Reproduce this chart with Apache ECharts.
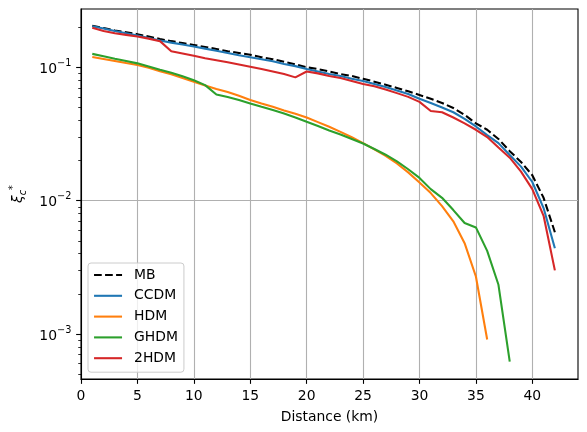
<!DOCTYPE html>
<html><head><meta charset="utf-8">
<script src="https://cdn.jsdelivr.net/npm/echarts@6/dist/echarts.min.js"></script>
<style>html,body{margin:0;padding:0;background:#fff}#c{width:587px;height:432px}</style>
</head><body><div id="c"></div>
<script>
const distance = [1,2,3,4,5,6,7,8,9,10,11,12,13,14,15,16,17,18,19,20,21,22,23,24,25,26,27,28,29,30,31,32,33,34,35,36,37,38,39,40,41,42];
const mbValues = [0.205,0.197,0.189,0.183,0.177,0.170,0.163,0.157,0.152,0.147,0.142,0.137,0.132,0.128,0.124,0.119,0.115,0.110,0.105,0.100,0.097,0.093,0.089,0.086,0.082,0.078,0.074,0.070,0.066,0.062,0.058,0.054,0.0495,0.044,0.038,0.034,0.029,0.0235,0.0195,0.0155,0.0105,0.0058];
const ccdmValues = [0.203,0.195,0.187,0.180,0.173,0.166,0.159,0.153,0.148,0.143,0.138,0.133,0.128,0.123,0.119,0.115,0.111,0.106,0.102,0.097,0.093,0.089,0.086,0.082,0.079,0.075,0.071,0.067,0.063,0.058,0.054,0.050,0.046,0.041,0.036,0.031,0.027,0.022,0.018,0.0138,0.0088,0.0044];
const hdmValues = [0.1195,0.1155,0.1115,0.1075,0.104,0.099,0.0935,0.0885,0.083,0.078,0.073,0.0688,0.0652,0.0612,0.0569,0.0535,0.0505,0.0475,0.0448,0.042,0.0388,0.0358,0.0328,0.0299,0.027,0.0242,0.0217,0.019,0.0163,0.0137,0.0114,0.0091,0.0070,0.0048,0.0027,0.00091];
const ghdmValues = [0.126,0.121,0.116,0.1115,0.107,0.1015,0.096,0.091,0.0855,0.080,0.0735,0.0625,0.0598,0.0568,0.0535,0.0505,0.0478,0.045,0.042,0.039,0.0363,0.0336,0.0313,0.029,0.0268,0.0244,0.0221,0.0197,0.0172,0.0148,0.0122,0.0105,0.0085,0.0068,0.0063,0.0042,0.00234,0.00062];
const hdm2Values = [0.198,0.187,0.180,0.175,0.170,0.164,0.157,0.132,0.127,0.122,0.117,0.113,0.109,0.105,0.101,0.097,0.093,0.089,0.084,0.093,0.090,0.086,0.083,0.079,0.075,0.072,0.068,0.064,0.060,0.055,0.047,0.046,0.042,0.038,0.034,0.030,0.025,0.021,0.0165,0.0122,0.0077,0.0030];
const seriesNames = ['MB','CCDM','HDM','GHDM','2HDM'];
const xTicks = [0,5,10,15,20,25,30,35,40];
const yMajorTicks = [1e-3,1e-2,1e-1];
const yMinorTicks = [5e-4,6e-4,7e-4,8e-4,9e-4,2e-3,3e-3,4e-3,5e-3,6e-3,7e-3,8e-3,9e-3,2e-2,3e-2,4e-2,5e-2,6e-2,7e-2,8e-2,9e-2,0.2];

const FONT = 'DejaVu Sans';
const FS = 13.9;
const LW = 2.08;
function pairs(vals){ return vals.map((v,i)=>[distance[i], v]); }
const colors = ['#000000','#1f77b4','#ff7f0e','#2ca02c','#d62728'];
const allVals = [mbValues, ccdmValues, hdmValues, ghdmValues, hdm2Values];

const chart = echarts.init(document.getElementById('c'), null, {renderer:'canvas'});
const yMin = 4.6e-4, yMax = 0.2735;
chart.setOption({
  animation:false,
  backgroundColor:'#fff',
  textStyle:{fontFamily:FONT},
  grid:{left:81, right:9, top:9, bottom:53, show:true, borderColor:'#000', borderWidth:1.1, backgroundColor:'transparent'},
  xAxis:[{
    type:'value', min:0, max:44.05, interval:5,
    axisLine:{show:true, lineStyle:{color:'#000', width:1.1}},
    axisTick:{show:true, inside:false, length:4.86, lineStyle:{color:'#000', width:1.1}},
    axisLabel:{color:'#000', fontSize:FS, fontFamily:FONT, margin:10, showMaxLabel:false,
      formatter:v=> xTicks.includes(v)? String(v):''},
    splitLine:{show:true, showMinLine:false, showMaxLine:false, lineStyle:{color:'#b0b0b0', width:1.1}},
    name:'Distance (km)', nameLocation:'middle', nameGap:31,
    nameTextStyle:{color:'#000', fontSize:FS, fontFamily:FONT}
  }],
  yAxis:[{
    type:'log', logBase:10, min:yMin, max:yMax,
    axisLine:{show:true, lineStyle:{color:'#000', width:1.1}},
    axisTick:{show:true, inside:false, length:4.86, customValues:yMajorTicks, lineStyle:{color:'#000', width:1.1}},
    axisLabel:{color:'#000', fontSize:FS, fontFamily:FONT, margin:9.7, customValues:yMajorTicks,
      formatter:v=>{ const e=Math.round(Math.log10(v)); return '{b|10}{s|\u2212'+Math.abs(e)+'}'; },
      rich:{b:{fontSize:FS, fontFamily:FONT, color:'#000', verticalAlign:'bottom', lineHeight:18},
            s:{fontSize:9.7, fontFamily:FONT, color:'#000', verticalAlign:'top', lineHeight:18}}},
    splitLine:{show:true, showMinLine:false, showMaxLine:false, lineStyle:{color:'#b0b0b0', width:1.1}},
    name:'{x|\u03be}{c|c}{s|*}', nameLocation:'middle', nameRotate:90, nameGap:52,
    nameTextStyle:{rich:{
      x:{fontSize:FS, fontFamily:FONT, fontStyle:'italic', color:'#000', verticalAlign:'middle', lineHeight:20},
      c:{fontSize:9.7, fontFamily:FONT, fontStyle:'italic', color:'#000', verticalAlign:'bottom', lineHeight:20},
      s:{fontSize:9.7, fontFamily:FONT, color:'#000', verticalAlign:'top', lineHeight:20}}}
  },{
    type:'log', logBase:10, min:yMin, max:yMax, position:'left',
    axisLine:{show:false},
    axisTick:{show:true, inside:false, length:2.78, customValues:yMinorTicks, lineStyle:{color:'#000', width:0.8}},
    axisLabel:{show:false},
    splitLine:{show:false}
  }],
  legend:{
    orient:'vertical', left:88, top:263,
    itemWidth:28, itemHeight:14, itemGap:6.8,
    padding:[5,6,7,5],
    backgroundColor:'rgba(255,255,255,0.8)', borderColor:'#cccccc', borderWidth:1, borderRadius:3,
    textStyle:{color:'#000', fontSize:FS, fontFamily:FONT, padding:[0,0,0,7]},
    itemStyle:{opacity:0},
    lineStyle:{width:LW},
    data:seriesNames
  },
  series: seriesNames.map((n,i)=>({
    name:n, type:'line', data:pairs(allVals[i]), xAxisIndex:0, yAxisIndex:0,
    showSymbol:false, symbol:'none', smooth:false,
    lineStyle:{color:colors[i], width:LW, type: i===0 ? [7.7,3.33] : 'solid'},
    itemStyle:{color:colors[i]},
    z: 2+i
  }))
});
</script></body></html>
